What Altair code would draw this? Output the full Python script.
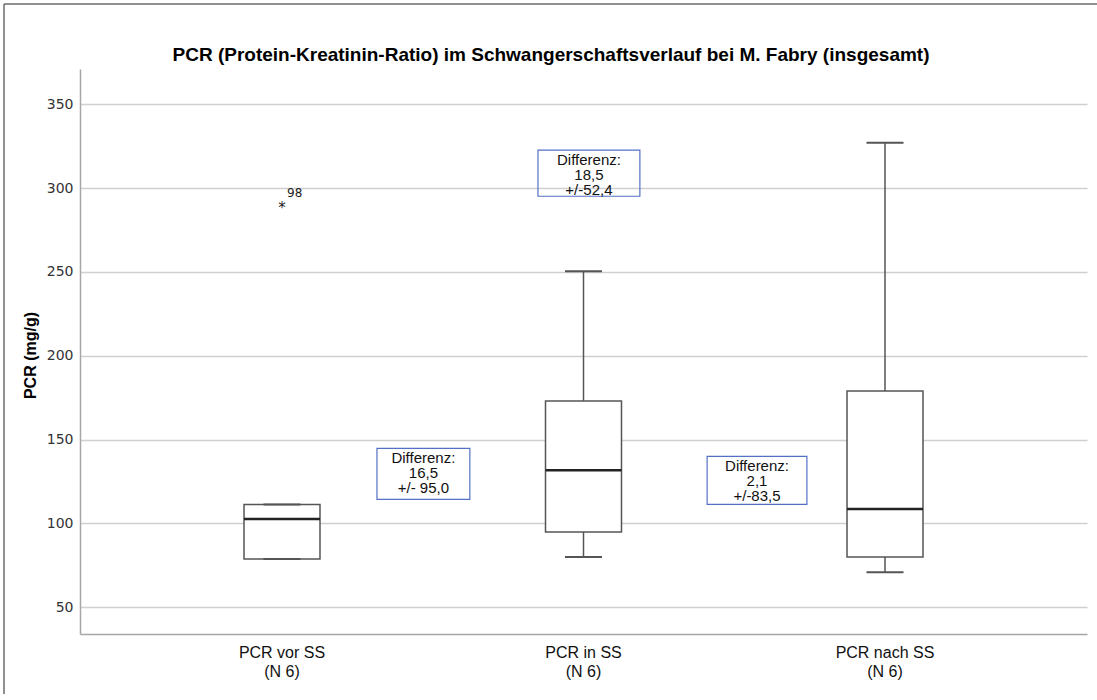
import altair as alt
import pandas as pd

# ---- data ----
categories = ["PCR vor SS", "PCR in SS", "PCR nach SS"]
n_labels = ["(N 6)", "(N 6)", "(N 6)"]
positions = [1, 2, 3]
whisker_low = [78.7, 80.0, 70.8]
q1 = [78.7, 94.8, 79.9]
median = [102.6, 131.6, 108.5]
q3 = [111.2, 173.0, 178.9]
whisker_high = [111.2, 250.4, 327.0]

outlier_pos = [1]
outlier_val = [289.7]
outlier_id = ["98"]

ann_text = ["Differenz:\n16,5\n+/- 95,0", "Differenz:\n18,5\n+/-52,4", "Differenz:\n2,1\n+/-83,5"]
ann_x1 = [1.315, 1.849, 2.410]
ann_x2 = [1.623, 2.187, 2.741]
ann_y1 = [114.3, 295.1, 111.3]
ann_y2 = [144.7, 322.6, 140.0]

title_text = "PCR (Protein-Kreatinin-Ratio) im Schwangerschaftsverlauf bei M. Fabry (insgesamt)"

# ---- tables ----
box = pd.DataFrame({
    "cat": categories, "n": n_labels, "pos": positions,
    "wlo": whisker_low, "q1": q1, "med": median, "q3": q3, "whi": whisker_high,
})
box["label"] = box["cat"] + "\n" + box["n"]
out = pd.DataFrame({"pos": outlier_pos, "val": outlier_val, "id": outlier_id})
ann = pd.DataFrame({"text": ann_text, "x1": ann_x1, "x2": ann_x2, "y1": ann_y1, "y2": ann_y2})
ann["xc"] = (ann["x1"] + ann["x2"]) / 2
title_df = pd.DataFrame({"t": [title_text]})

W, H = 1007, 565
HALF_BOX = 0.126
HALF_CAP = 0.0614
SANS = "Liberation Sans"

xs = alt.Scale(domain=[0.33, 3.67], nice=False, zero=False)
ys = alt.Scale(domain=[34, 371], nice=False, zero=False)

X_AXIS = alt.Axis(title=None, labels=False, ticks=False, grid=False, domain=True,
                  domainColor="#a6a6a6", domainWidth=1.5)
Y_AXIS = alt.Axis(values=[50, 100, 150, 200, 250, 300, 350], title="PCR (mg/g)",
                  ticks=False, grid=True, gridColor="#cfcfcf", gridWidth=1.5,
                  domainColor="#a6a6a6", domainWidth=1.5,
                  labelFont="DejaVu Sans", labelFontSize=14, labelColor="#333333",
                  labelPadding=7,
                  titleFont=SANS, titleFontSize=16, titleFontWeight="bold",
                  titleColor="#000000", titleX=-50, titleY=286, titleAngle=-90,
                  titleAlign="center", titleBaseline="middle")

base = alt.Chart(box)

frame_top = alt.Chart(title_df).mark_rule(color="#6b6b6b", strokeWidth=1.5).encode(
    x=alt.value(-76), x2=alt.value(W + 10), y=alt.value(-65))
frame_left = alt.Chart(title_df).mark_rule(color="#6b6b6b", strokeWidth=1.5).encode(
    x=alt.value(-76), y=alt.value(-65), y2=alt.value(H + 66))

title = alt.Chart(title_df).mark_text(font=SANS, fontSize=19, fontWeight="bold",
                                      color="#000000", baseline="alphabetic").encode(
    x=alt.value(471), y=alt.value(-8), text="t:N")

grid = base.mark_point(opacity=0).encode(
    x=alt.X("pos:Q", scale=xs, axis=X_AXIS),
    y=alt.Y("med:Q", scale=ys, axis=Y_AXIS),
)

ann_rect = alt.Chart(ann).mark_rect(fill=None, stroke="#5470c6", strokeWidth=1.2).encode(
    x=alt.X("x1:Q", scale=xs), x2="x2:Q",
    y=alt.Y("y1:Q", scale=ys), y2="y2:Q",
)
ann_txt = alt.Chart(ann).mark_text(font=SANS, fontSize=15, lineHeight=15,
                                   color="#111111", lineBreak="\n", baseline="top",
                                   dy=3).encode(
    x=alt.X("xc:Q", scale=xs), y=alt.Y("y2:Q", scale=ys), text="text:N"
)

wl = base.mark_rule(color="#555555", strokeWidth=1.5).encode(
    x=alt.X("pos:Q", scale=xs), y=alt.Y("wlo:Q", scale=ys), y2="q1:Q")
wh = base.mark_rule(color="#555555", strokeWidth=1.5).encode(
    x=alt.X("pos:Q", scale=xs), y=alt.Y("q3:Q", scale=ys), y2="whi:Q")

body = base.transform_calculate(
    xa=f"datum.pos - {HALF_BOX}", xb=f"datum.pos + {HALF_BOX}"
).mark_rect(fill="#ffffff", stroke="#555555", strokeWidth=1.5).encode(
    x=alt.X("xa:Q", scale=xs), x2="xb:Q", y=alt.Y("q1:Q", scale=ys), y2="q3:Q")

med = base.transform_calculate(
    xa=f"datum.pos - {HALF_BOX}", xb=f"datum.pos + {HALF_BOX}"
).mark_rule(color="#222222", strokeWidth=2.5).encode(
    x=alt.X("xa:Q", scale=xs), x2="xb:Q", y=alt.Y("med:Q", scale=ys))

cap_lo = base.transform_calculate(
    xa=f"datum.pos - {HALF_CAP}", xb=f"datum.pos + {HALF_CAP}"
).mark_rule(color="#555555", strokeWidth=2).encode(
    x=alt.X("xa:Q", scale=xs), x2="xb:Q", y=alt.Y("wlo:Q", scale=ys))
cap_hi = base.transform_calculate(
    xa=f"datum.pos - {HALF_CAP}", xb=f"datum.pos + {HALF_CAP}"
).mark_rule(color="#555555", strokeWidth=2).encode(
    x=alt.X("xa:Q", scale=xs), x2="xb:Q", y=alt.Y("whi:Q", scale=ys))

star = alt.Chart(out).mark_text(text="*", font="DejaVu Sans", fontSize=15, color="#222222",
                                baseline="middle", dy=3).encode(
    x=alt.X("pos:Q", scale=xs), y=alt.Y("val:Q", scale=ys))
star_lbl = alt.Chart(out).mark_text(font="DejaVu Sans", fontSize=12, color="#222222",
                                    align="left", dx=5, dy=-12).encode(
    x=alt.X("pos:Q", scale=xs), y=alt.Y("val:Q", scale=ys), text="id:N")

cat_lbl = base.mark_text(font=SANS, fontSize=16, lineHeight=19, color="#111111",
                         lineBreak="\n", baseline="top").encode(
    x=alt.X("pos:Q", scale=xs), y=alt.value(H + 11), text="label:N")

chart = alt.layer(
    frame_top, frame_left, title, grid, ann_rect, ann_txt, wl, wh, body, med,
    cap_lo, cap_hi, star, star_lbl, cat_lbl
).properties(
    width=W, height=H,
    autosize=alt.AutoSizeParams(type="none"),
    padding={"left": 80, "top": 69, "right": 10, "bottom": 60},
).configure(background="#ffffff").configure_view(stroke=None, strokeWidth=0)

chart.save("out.html", embed_options={"renderer": "svg", "actions": False})
